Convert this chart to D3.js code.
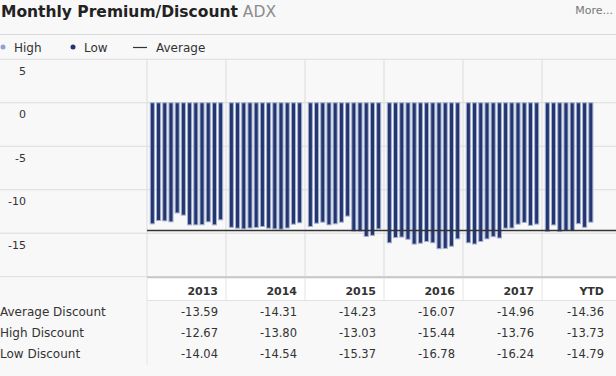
<!DOCTYPE html>
<html>
<head>
<meta charset="utf-8">
<script src="https://cdn.jsdelivr.net/npm/d3@7"></script>
<style>
  body { margin: 0; background: #f8f8f8; }
  svg { display: block; font-family: "DejaVu Sans", Verdana, sans-serif; }
</style>
</head>
<body>
<div id="chart"></div>
<script>
// column keys for the bar groups and the table
let years = ["2013", "2014", "2015", "2016", "2017", "YTD"];

// monthly premium/discount values
let values2013 = [-13.92, -13.54, -13.58, -13.69, -12.67, -12.92, -14.04, -14.04, -14.02, -13.69, -14.04, -13.46];
let values2014 = [-14.32, -14.42, -14.50, -14.40, -14.35, -14.23, -14.42, -14.50, -14.54, -14.40, -13.96, -13.80];
let values2015 = [-14.23, -13.85, -13.73, -14.04, -13.92, -13.73, -13.03, -14.75, -14.75, -15.37, -15.25, -14.50];
let values2016 = [-16.10, -15.50, -15.44, -15.70, -16.25, -16.15, -15.95, -16.10, -16.78, -16.75, -16.50, -15.65];
let values2017 = [-16.10, -16.24, -15.95, -15.65, -15.40, -15.55, -14.42, -14.40, -13.96, -13.76, -14.10, -13.95];
let valuesYTD = [-14.79, -14.05, -14.79, -14.70, -14.70, -13.90, -14.32, -13.73];

let averageValue = -14.68;

let yTicks = [5, 0, -5, -10, -15, -20];

// table below the chart
let rowLabels = ["Average Discount", "High Discount", "Low Discount"];
let averageDiscount = ["-13.59", "-14.31", "-14.23", "-16.07", "-14.96", "-14.36"];
let highDiscount = ["-12.67", "-13.80", "-13.03", "-15.44", "-13.76", "-13.73"];
let lowDiscount = ["-14.04", "-14.54", "-15.37", "-16.78", "-16.24", "-14.79"];

let monthly = {
    "2013": values2013, "2014": values2014, "2015": values2015,
    "2016": values2016, "2017": values2017, "YTD": valuesYTD
};
let tableRows = [averageDiscount, highDiscount, lowDiscount];

let W = 616, H = 376;
let plotLeft = 147, plotTop = 59.3, plotBottom = 276.7;

let svg = d3.select("#chart").append("svg")
    .attr("width", W).attr("height", H);

svg.append("rect").attr("width", W).attr("height", H).attr("fill", "#f8f8f8");

// header
svg.append("text").attr("x", 1).attr("y", 17)
    .style("font-size", "15.5px").style("font-weight", "bold").attr("fill", "#222")
    .text("Monthly Premium/Discount")
    .append("tspan").style("font-weight", "normal").attr("fill", "#8c8c8c").text(" ADX");
svg.append("text").attr("x", 613).attr("y", 14).attr("text-anchor", "end")
    .style("font-size", "11px").attr("fill", "#777").text("More...");

svg.append("line").attr("x1", 0).attr("x2", W).attr("y1", 34.5).attr("y2", 34.5)
    .attr("stroke", "#d8d8d8");

// legend
let lg = svg.append("g").style("font-size", "12px").attr("fill", "#333");
lg.append("circle").attr("cx", 3).attr("cy", 47).attr("r", 2.5).attr("fill", "#8ea3c9");
lg.append("text").attr("x", 14).attr("y", 51.5).text("High");
lg.append("circle").attr("cx", 73).attr("cy", 47).attr("r", 2.5).attr("fill", "#24356d");
lg.append("text").attr("x", 84).attr("y", 51.5).text("Low");
lg.append("line").attr("x1", 133).attr("x2", 147).attr("y1", 47.5).attr("y2", 47.5)
    .attr("stroke", "#333").attr("stroke-width", 1.2);
lg.append("text").attr("x", 156).attr("y", 51.5).text("Average");

// scales
let x = d3.scaleBand().domain(years).range([plotLeft, plotLeft + 79 * years.length]);
let xm = d3.scaleBand().domain(d3.range(12)).range([0, x.bandwidth()])
    .paddingInner(0.18).paddingOuter(0.45);
let y = d3.scaleLinear().domain([-20, 5]).range([plotBottom, plotTop]);

// horizontal grid + y labels
svg.append("g").selectAll("line").data(yTicks).join("line")
    .attr("x1", 0).attr("x2", W)
    .attr("y1", d => y(d)).attr("y2", d => y(d))
    .attr("stroke", "#dcdcdc");
svg.append("g").selectAll("text").data(yTicks.filter(d => d > -20)).join("text")
    .attr("x", 26).attr("y", d => y(d) + 15.5).attr("text-anchor", "end")
    .style("font-size", "11px").attr("fill", "#333")
    .text(d => d);

// vertical grid at column edges
let edges = years.map(k => x(k)).concat([x("YTD") + x.bandwidth()]);
svg.append("g").selectAll("line").data(edges).join("line")
    .attr("x1", d => d).attr("x2", d => d)
    .attr("y1", plotTop).attr("y2", plotBottom)
    .attr("stroke", "#dcdcdc");

// bars
let clip = svg.append("clipPath").attr("id", "clip")
    .append("rect").attr("x", 0).attr("y", 0).attr("width", W).attr("height", H);
let bars = svg.append("g").attr("clip-path", "url(#clip)");
years.forEach(function(k) {
    bars.append("g").attr("transform", "translate(" + x(k) + ",0)")
        .selectAll("rect").data(monthly[k]).join("rect")
        .attr("x", (d, i) => xm(i) + 0.5)
        .attr("width", xm.bandwidth() - 1)
        .attr("y", y(0))
        .attr("height", d => y(d) - y(0))
        .attr("fill", "#25366e")
        .attr("stroke", "#a3b1d4")
        .attr("stroke-width", 1);
});

// average line
svg.append("line")
    .attr("x1", plotLeft).attr("x2", W)
    .attr("y1", y(averageValue)).attr("y2", y(averageValue))
    .attr("stroke", "#333").attr("stroke-width", 1.6);

// table
let headTop = 278.5, headBottom = 300.5;
svg.append("rect").attr("x", plotLeft).attr("y", headTop)
    .attr("width", W - plotLeft).attr("height", headBottom - headTop)
    .attr("fill", "#fff");
svg.append("line").attr("x1", plotLeft).attr("x2", W)
    .attr("y1", plotBottom + 0.5).attr("y2", plotBottom + 0.5)
    .attr("stroke", "#c8c8c8").attr("stroke-width", 2);
svg.append("line").attr("x1", plotLeft).attr("x2", W)
    .attr("y1", headBottom).attr("y2", headBottom).attr("stroke", "#e2e2e2");
svg.append("g").selectAll("line").data(edges).join("line")
    .attr("x1", d => d).attr("x2", d => d)
    .attr("y1", headTop).attr("y2", headBottom)
    .attr("stroke", "#e2e2e2");
svg.append("line").attr("x1", plotLeft).attr("x2", plotLeft)
    .attr("y1", headBottom).attr("y2", 365).attr("stroke", "#e6e6e6");

let colRight = k => Math.min(x(k) + x.bandwidth() - 8, W - 12);

svg.append("g").selectAll("text").data(years).join("text")
    .attr("x", colRight).attr("y", 294.5).attr("text-anchor", "end")
    .style("font-size", "11px").style("font-weight", "bold").attr("fill", "#333")
    .text(d => d);

let rowY = [315.5, 336.5, 358];
rowLabels.forEach(function(label, r) {
    svg.append("text").attr("x", 0).attr("y", rowY[r])
        .style("font-size", "12px").attr("fill", "#333").text(label);
    svg.append("g").selectAll("text").data(tableRows[r]).join("text")
        .attr("x", (d, i) => colRight(years[i])).attr("y", rowY[r])
        .attr("text-anchor", "end")
        .style("font-size", "11.5px").attr("fill", "#333")
        .text(d => d);
});
</script>
</body>
</html>
